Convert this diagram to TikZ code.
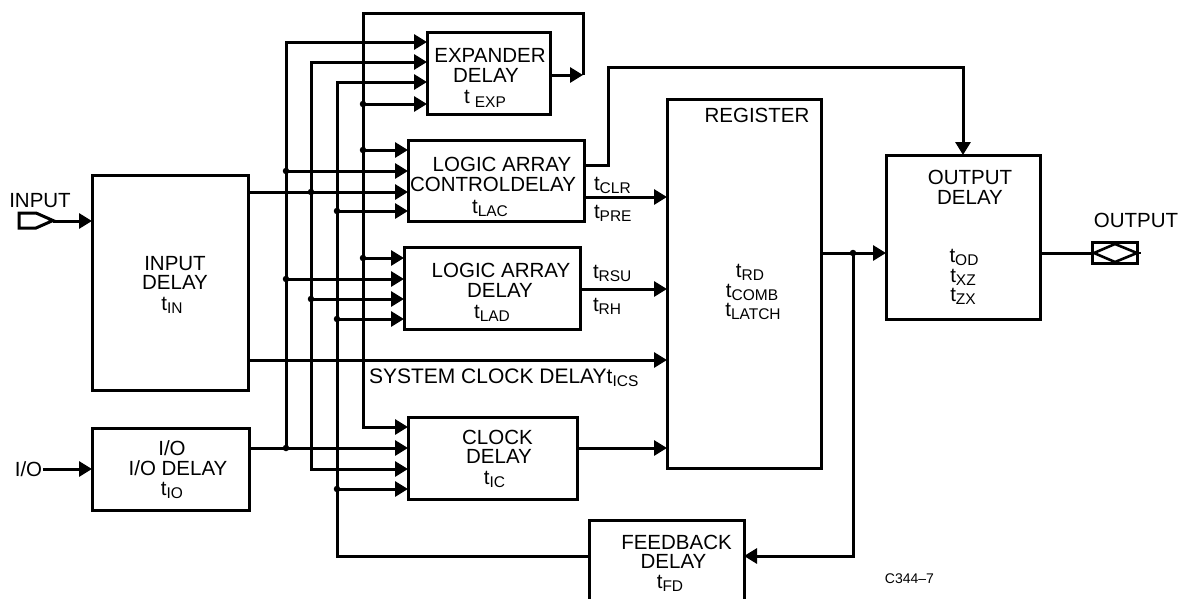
\documentclass[tikz,border=0pt]{standalone}
\usepackage{fontspec}
\setmainfont{Liberation Sans}
\usetikzlibrary{arrows.meta}
\newcommand\tsb[2][3.5pt]{t\raisebox{-#1}{\fontsize{15.5}{15.5}\selectfont #2}}
\begin{document}
\begin{tikzpicture}[x=1pt,y=-1pt,line width=3pt,
  blk/.style={draw,rectangle,inner sep=0pt,outer sep=0pt,line width=3pt},
  lbl/.style={inner sep=0pt,outer sep=0pt,font=\fontsize{20.5}{20.5}\selectfont,anchor=base},
  lbw/.style={lbl,anchor=base west},
  arr/.style={-{Triangle[length=13pt,width=15pt]}},
  dot/.style={circle,fill,inner sep=0pt,minimum size=6.5pt}]
\useasboundingbox (0,0) rectangle (1184,598);
\clip (0,0) rectangle (1184,598);
% blocks
\node[blk,minimum width=156pt,minimum height=215pt] (inp) at (170,282.5) {};
\node[blk,minimum width=157pt,minimum height=82pt] (io) at (170.5,469) {};
\node[blk,minimum width=123pt,minimum height=82pt] (exp) at (488.5,73) {};
\node[blk,minimum width=176pt,minimum height=81pt] (lac) at (496,180.5) {};
\node[blk,minimum width=176pt,minimum height=82pt] (lad) at (492,288) {};
\node[blk,minimum width=169pt,minimum height=82pt] (clk) at (492.5,458) {};
\node[blk,minimum width=154pt,minimum height=369pt] (reg) at (744,283.5) {};
\node[blk,minimum width=154pt,minimum height=164pt] (out) at (963,237) {};
\node[blk,minimum width=155pt,minimum height=95pt] (fb) at (666.5,567.5) {};
% pins
\draw (19,213) -- (36,213) -- (53,220.5) -- (36,228) -- (19,228) -- cycle;
\coordinate (inpin) at (53,221);
\coordinate (iopin) at (43,469);
\draw (1092,242) rectangle (1137,263);
\draw[line width=2.6pt] (1094,253) -- (1115,244) -- (1137,253) -- (1115,262) -- cycle;
\draw[line width=1.2pt] (1137,253) -- (1141,253);
\coordinate (outpin) at (1092,253);
% connectors
\draw[arr] (inpin) -- (inp.west|-inpin);
\draw[arr] (iopin) -- (io.west|-iopin);
\draw[arr] (inp.east|-0,192) -- (lac.west|-0,192);
\draw[arr] (inp.east|-0,360) -- (reg.west|-0,360);
\draw[arr] (io.east|-0,448) -- (clk.west|-0,448);
% bus A
\draw[arr] (286,448) -- (286,42) -- (exp.west|-0,42);
\draw[arr] (286,171) -- (lac.west|-0,171);
\draw[arr] (286,279) -- (lad.west|-0,279);
% bus B
\draw[arr] (311,192) -- (311,62) -- (exp.west|-0,62);
\draw[arr] (311,192) -- (311,469) -- (clk.west|-0,469);
\draw[arr] (311,299) -- (lad.west|-0,299);
% bus C
\draw[arr] (fb.west|-0,556) -- (337,556) -- (337,82) -- (exp.west|-0,82);
\draw[arr] (337,211) -- (lac.west|-0,211);
\draw[arr] (337,319) -- (lad.west|-0,319);
\draw[arr] (337,489) -- (clk.west|-0,489);
% bus D / expander loop
\draw[arr] (exp.east|-0,75) -- (583,75);
\draw[arr] (583,75) -- (583,13) -- (363,13) -- (363,427) -- (clk.west|-0,427);
\draw[arr] (363,104) -- (exp.west|-0,104);
\draw[arr] (363,150) -- (lac.west|-0,150);
\draw[arr] (363,258) -- (lad.west|-0,258);
% outputs to register / output
\draw[arr] (lac.east|-0,165) -- (608,165) -- (608,67) -| (out.north);
\draw[arr] (lac.east|-0,197) -- (reg.west|-0,197);
\draw[arr] (lad.east|-0,289) -- (reg.west|-0,289);
\draw[arr] (clk.east|-0,448) -- (reg.west|-0,448);
\coordinate (rj) at (853,253);
\draw[arr] (reg.east|-rj) -- (out.west|-rj);
\draw[arr] (rj) -- (853,556) -- (fb.east|-0,556);
\draw (out.east|-outpin) -- (outpin);
% dots
\foreach \p [count=\i] in {(286,171),(286,279),(286,448),(311,192),(311,299),(337,211),(337,319),(337,489),(363,104),(363,150),(363,258),(853,253)}
  \node[dot] (j\i) at \p {};
% labels
\node[lbl] (tInput) at (40,207) {INPUT};
\node[lbl] (tIOpin) at (28.5,476) {I/O};
\node[lbl] (tOutput) at (1136,227) {OUTPUT};
\node[lbl] (inp1) at (175,270) {INPUT};
\node[lbl] (inp2) at (175,289) {DELAY};
\node[lbl] (inp3) at (172,310) {\tsb{IN}};
\node[lbl] (io1) at (172,455) {I/O};
\node[lbl] (io2) at (178,475) {I/O DELAY};
\node[lbl] (io3) at (172,495) {\tsb{IO}};
\node[lbl] (exp1) at (490,62.5) {EXPANDER};
\node[lbl,text depth=0pt] (exp2) at (486,82) {DELAY};
\node[lbl,text height=12pt] (exp3) at (485,103) {t\hspace{5pt}\raisebox{-4pt}{\fontsize{15.5}{15.5}\selectfont EXP}};
\node[lbl] (lac1) at (502,171) {LOGIC ARRAY};
\node[lbl] (lac2) at (493,191) {CONTROLDELAY};
\node[lbl] (lac3) at (490,213) {\tsb{LAC}};
\node[lbl] (lad1) at (501,277) {LOGIC ARRAY};
\node[lbl] (lad2) at (500,297) {DELAY};
\node[lbl] (lad3) at (492,318) {\tsb{LAD}};
\node[lbl] (clk1) at (497.5,444) {CLOCK};
\node[lbl] (clk2) at (499,463.5) {DELAY};
\node[lbl] (clk3) at (494.5,484) {\tsb{IC}};
\node[lbl] (fb1) at (676.5,549) {FEEDBACK};
\node[lbl] (fb2) at (673.5,568) {DELAY};
\node[lbl] (fb3) at (670,588) {\tsb{FD}};
\node[lbl] (reg1) at (757,122) {REGISTER};
\node[lbl] (reg2) at (750,277) {\tsb{RD}};
\node[lbl] (reg3) at (752,297) {\tsb{COMB}};
\node[lbl] (reg4) at (753,316) {\tsb{LATCH}};
\node[lbl] (out1) at (970,184) {OUTPUT};
\node[lbl] (out2) at (970,204) {DELAY};
\node[lbl] (out3) at (964,262) {\tsb{OD}};
\node[lbl] (out4) at (963,282) {\tsb{XZ}};
\node[lbl] (out5) at (963,301) {\tsb{ZX}};
\node[lbw] (tclr) at (594,190) {\tsb{CLR}};
\node[lbw] (tpre) at (594,218) {\tsb{PRE}};
\node[lbw] (trsu) at (593,278) {\tsb{RSU}};
\node[lbw] (trh) at (593,311) {\tsb{RH}};
\node[lbw,font=\fontsize{21}{21}\selectfont] (tsys) at (369,383) {SYSTEM CLOCK DELAY\tsb{ICS}};
\node[inner sep=0pt,font=\fontsize{14}{14}\selectfont,anchor=base] (tcode) at (909.5,583) {C344–7};
\end{tikzpicture}
\end{document}
